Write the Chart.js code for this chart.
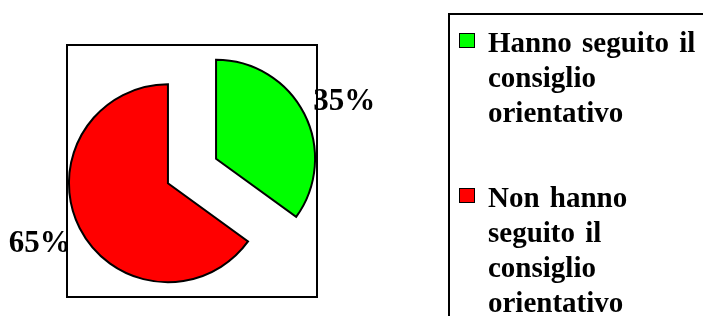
<!DOCTYPE html>
<html>
<head>
<meta charset="utf-8">
<script src="https://cdn.jsdelivr.net/npm/chart.js@4/dist/chart.umd.min.js"></script>
<style>
  html, body { margin: 0; padding: 0; background: #fff; overflow: hidden; }
  body { width: 703px; height: 316px; position: relative; }
  #c { position: absolute; left: 0; top: 0; }
  #legend {
    position: absolute; left: 448px; top: 13px; width: 320px; height: 420px;
    border-left: 2px solid #000; border-top: 2px solid #000; box-sizing: border-box;
    font-family: "Liberation Serif", "Times New Roman", serif; font-weight: bold;
    font-size: 29px; line-height: 35px; color: #000; padding-top: 10px;
  }
  .item { position: relative; padding-left: 38px; }
  .item + .item { margin-top: 50px; }
  .sw { position: absolute; left: 9px; top: 8px; width: 14px; height: 13px; border: 1px solid #000; }
  .line { white-space: nowrap; word-spacing: 3px; }
</style>
</head>
<body>
<canvas id="c" width="703" height="316"></canvas>
<div id="legend"></div>
<script>
const categories = [
  ["Hanno seguito il", "consiglio", "orientativo"],
  ["Non hanno", "seguito il", "consiglio", "orientativo"]
];
const values = [35, 65];
const colors = ["#00FF00", "#FF0000"];
const explodeDistance = [27, 27];

const explodePlugin = {
  id: 'explode',
  beforeDatasetDraw(chart, args) {
    const ctx = chart.ctx;
    args.meta.data.forEach((arc, i) => {
      const mid = (arc.startAngle + arc.endAngle) / 2;
      const d = explodeDistance[i] || 0;
      ctx.save();
      ctx.translate(Math.cos(mid) * d, Math.sin(mid) * d);
      arc.draw(ctx);
      ctx.restore();
    });
    return false;
  },
  afterDatasetsDraw(chart) {
    const ctx = chart.ctx;
    const meta = chart.getDatasetMeta(0);
    const data = chart.data.datasets[0].data;
    const total = data.reduce((a, b) => a + b, 0);
    const size = 31;
    ctx.save();
    ctx.font = 'bold ' + size + 'px "Liberation Serif", "Times New Roman", serif';
    ctx.fillStyle = '#000';
    ctx.textAlign = 'center';
    ctx.textBaseline = 'alphabetic';
    meta.data.forEach((arc, i) => {
      const mid = (arc.startAngle + arc.endAngle) / 2 + 0.035;
      const r = arc.outerRadius + 69;
      const x = arc.x + Math.cos(mid) * r;
      const y = arc.y + Math.sin(mid) * r + size * 0.338;
      ctx.fillText(Math.round(data[i] / total * 100) + '%', x, y);
    });
    ctx.restore();
  }
};

const framePlugin = {
  id: 'frame',
  beforeDraw(chart) {
    const {ctx, chartArea: a} = chart;
    ctx.save();
    ctx.strokeStyle = '#000';
    ctx.lineWidth = 2;
    ctx.strokeRect(a.left, a.top, a.right - a.left, a.bottom - a.top);
    ctx.restore();
  }
};

const chart = new Chart(document.getElementById('c'), {
  type: 'pie',
  data: {
    labels: categories,
    datasets: [{
      data: values,
      backgroundColor: colors,
      borderColor: '#000',
      borderWidth: 2,
      borderJoinStyle: 'miter',
      offset: 0
    }]
  },
  options: {
    responsive: false,
    animation: false,
    devicePixelRatio: 1,
    radius: 99,
    layout: { padding: { left: 67, top: 45, right: 386, bottom: 19 } },
    plugins: {
      legend: { display: false },
      tooltip: { enabled: false }
    }
  },
  plugins: [framePlugin, explodePlugin]
});

const legend = document.getElementById('legend');
categories.forEach((lines, i) => {
  const item = document.createElement('div');
  item.className = 'item';
  const sw = document.createElement('div');
  sw.className = 'sw';
  sw.style.background = colors[i];
  item.appendChild(sw);
  lines.forEach(t => {
    const l = document.createElement('div');
    l.className = 'line';
    l.textContent = t;
    item.appendChild(l);
  });
  legend.appendChild(item);
});
</script>
</body>
</html>
